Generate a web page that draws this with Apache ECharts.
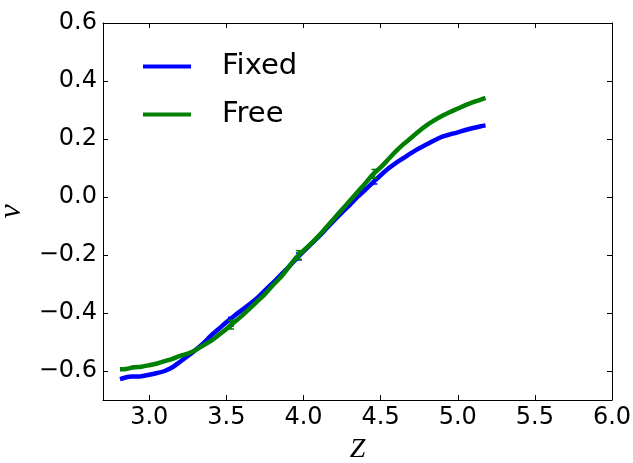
<!DOCTYPE html>
<html>
<head>
<meta charset="utf-8">
<script src="https://cdn.jsdelivr.net/npm/echarts@6/dist/echarts.min.js"></script>
<style>html,body{margin:0;padding:0;background:#fff}#c{width:633px;height:463px}</style>
</head>
<body>
<div id="c"></div>
<script>
const xTicks = [3.0, 3.5, 4.0, 4.5, 5.0, 5.5, 6.0];
const yTicks = [-0.6, -0.4, -0.2, 0.0, 0.2, 0.4, 0.6];

const zFixed = [2.81,2.87,2.90,2.95,3.00,3.05,3.10,3.15,3.20,3.25,3.30,3.35,3.40,3.45,3.50,3.55,3.60,3.65,3.70,3.75,3.80,3.85,3.90,3.95,4.00,4.05,4.10,4.15,4.20,4.25,4.30,4.35,4.40,4.45,4.50,4.55,4.60,4.65,4.70,4.75,4.80,4.85,4.90,4.95,5.00,5.05,5.10,5.15,5.18];
const nuFixed = [-0.628,-0.620,-0.619,-0.618,-0.613,-0.607,-0.600,-0.587,-0.568,-0.548,-0.528,-0.505,-0.478,-0.455,-0.432,-0.410,-0.390,-0.370,-0.348,-0.322,-0.297,-0.270,-0.243,-0.215,-0.188,-0.162,-0.136,-0.108,-0.080,-0.053,-0.027,0.000,0.025,0.050,0.075,0.098,0.118,0.135,0.152,0.168,0.182,0.196,0.208,0.216,0.223,0.231,0.238,0.244,0.247];

const zFree = [2.81,2.85,2.90,2.95,3.00,3.05,3.10,3.15,3.20,3.25,3.30,3.35,3.40,3.45,3.50,3.55,3.60,3.65,3.70,3.75,3.80,3.85,3.90,3.95,4.00,4.05,4.10,4.15,4.20,4.25,4.30,4.35,4.40,4.45,4.50,4.55,4.60,4.65,4.70,4.75,4.80,4.85,4.90,4.95,5.00,5.05,5.10,5.15,5.18];
const nuFree = [-0.594,-0.593,-0.587,-0.585,-0.580,-0.574,-0.566,-0.558,-0.548,-0.540,-0.528,-0.512,-0.496,-0.476,-0.455,-0.432,-0.410,-0.385,-0.360,-0.335,-0.305,-0.278,-0.245,-0.210,-0.185,-0.160,-0.133,-0.103,-0.073,-0.043,-0.013,0.017,0.047,0.078,0.102,0.130,0.158,0.183,0.205,0.228,0.248,0.265,0.280,0.293,0.305,0.317,0.327,0.336,0.342];

const errZ = [3.53, 3.97, 4.46];
const errFixedMid = [-0.430, -0.205, 0.055];
const errFixedHalf = [0.015, 0.012, 0.010];
const errFreeMid = [-0.440, -0.200, 0.080];
const errFreeHalf = [0.015, 0.015, 0.015];

const BLUE = '#0000ff', GREEN = '#008000';
const FONT = 'DejaVu Sans';

function pairs(xs, ys){ return xs.map((x,i)=>[x, ys[i]]); }
function errData(xs, mid, half){ return xs.map((x,i)=>[x, mid[i]-half[i], mid[i]+half[i]]); }
function errRender(color){
  return function(params, api){
    const x = api.value(0);
    const lo = api.coord([x, api.value(1)]);
    const hi = api.coord([x, api.value(2)]);
    const w = 3;
    const st = {stroke: color, lineWidth: 1.5};
    return {type:'group', children:[
      {type:'line', shape:{x1:lo[0],y1:lo[1],x2:hi[0],y2:hi[1]}, style:st},
      {type:'line', shape:{x1:lo[0]-w,y1:lo[1],x2:lo[0]+w,y2:lo[1]}, style:st},
      {type:'line', shape:{x1:hi[0]-w,y1:hi[1],x2:hi[0]+w,y2:hi[1]}, style:st}
    ]};
  };
}
const fmt = v => { const s = Math.abs(v).toFixed(1); return v < -1e-9 ? '\u2212' + s : s; };

const axisLineStyle = {show:true, onZero:false, lineStyle:{color:'#000', width:1}};
const tickStyle = {show:true, inside:true, length:5, lineStyle:{color:'#000', width:1}};

const chart = echarts.init(document.getElementById('c'), null, {renderer:'canvas'});
chart.setOption({
  animation:false,
  backgroundColor:'#fff',
  grid:{left:103, top:23, right:21, bottom:63, containLabel:false, outerBoundsMode:'none'},
  legend:{
    orient:'vertical', left:138, top:47, itemWidth:48, itemHeight:4, itemGap:19,
    icon:'rect',
    data:['Fixed','Free'],
    textStyle:{fontFamily:FONT, fontSize:29, color:'#000', padding:[0,0,0,26]}
  },
  xAxis:[
    {type:'value', min:2.7, max:6.0, position:'bottom',
     name:'Z', nameLocation:'middle', nameGap:36,
     nameTextStyle:{fontFamily:'Liberation Serif', fontStyle:'italic', fontSize:28, color:'#000'},
     axisLine:axisLineStyle, splitLine:{show:false},
     axisTick:Object.assign({customValues:xTicks}, tickStyle),
     axisLabel:{customValues:xTicks, formatter:fmt, fontFamily:FONT, fontSize:24, color:'#000', margin:6}},
    {type:'value', min:2.7, max:6.0, position:'top',
     axisLine:axisLineStyle, splitLine:{show:false},
     axisTick:Object.assign({customValues:xTicks}, tickStyle),
     axisLabel:{show:false}}
  ],
  yAxis:[
    {type:'value', min:-0.7, max:0.6, position:'left',
     name:'\u03bd', nameLocation:'middle', nameGap:64, nameRotate:90,
     nameTextStyle:{fontFamily:'Liberation Serif', fontStyle:'italic', fontSize:32, color:'#000'},
     axisLine:axisLineStyle, splitLine:{show:false},
     axisTick:Object.assign({customValues:yTicks}, tickStyle),
     axisLabel:{customValues:yTicks, formatter:fmt, fontFamily:FONT, fontSize:24, color:'#000', margin:6}},
    {type:'value', min:-0.7, max:0.6, position:'right',
     axisLine:axisLineStyle, splitLine:{show:false},
     axisTick:Object.assign({customValues:yTicks}, tickStyle),
     axisLabel:{show:false}}
  ],
  series:[
    {name:'Fixed', type:'line', data:pairs(zFixed, nuFixed), showSymbol:false, symbol:'none',
     smooth:0.3, lineStyle:{color:BLUE, width:4.5}, itemStyle:{color:BLUE}, z:3},
    {name:'Free', type:'line', data:pairs(zFree, nuFree), showSymbol:false, symbol:'none',
     smooth:0.3, lineStyle:{color:GREEN, width:4.5}, itemStyle:{color:GREEN}, z:4},
    {name:'FixedErr', type:'custom', data:errData(errZ, errFixedMid, errFixedHalf),
     renderItem:errRender(BLUE), itemStyle:{color:BLUE}, z:3, encode:{x:0, y:[1,2]}},
    {name:'FreeErr', type:'custom', data:errData(errZ, errFreeMid, errFreeHalf),
     renderItem:errRender(GREEN), itemStyle:{color:GREEN}, z:4, encode:{x:0, y:[1,2]}}
  ]
});
</script>
</body>
</html>
